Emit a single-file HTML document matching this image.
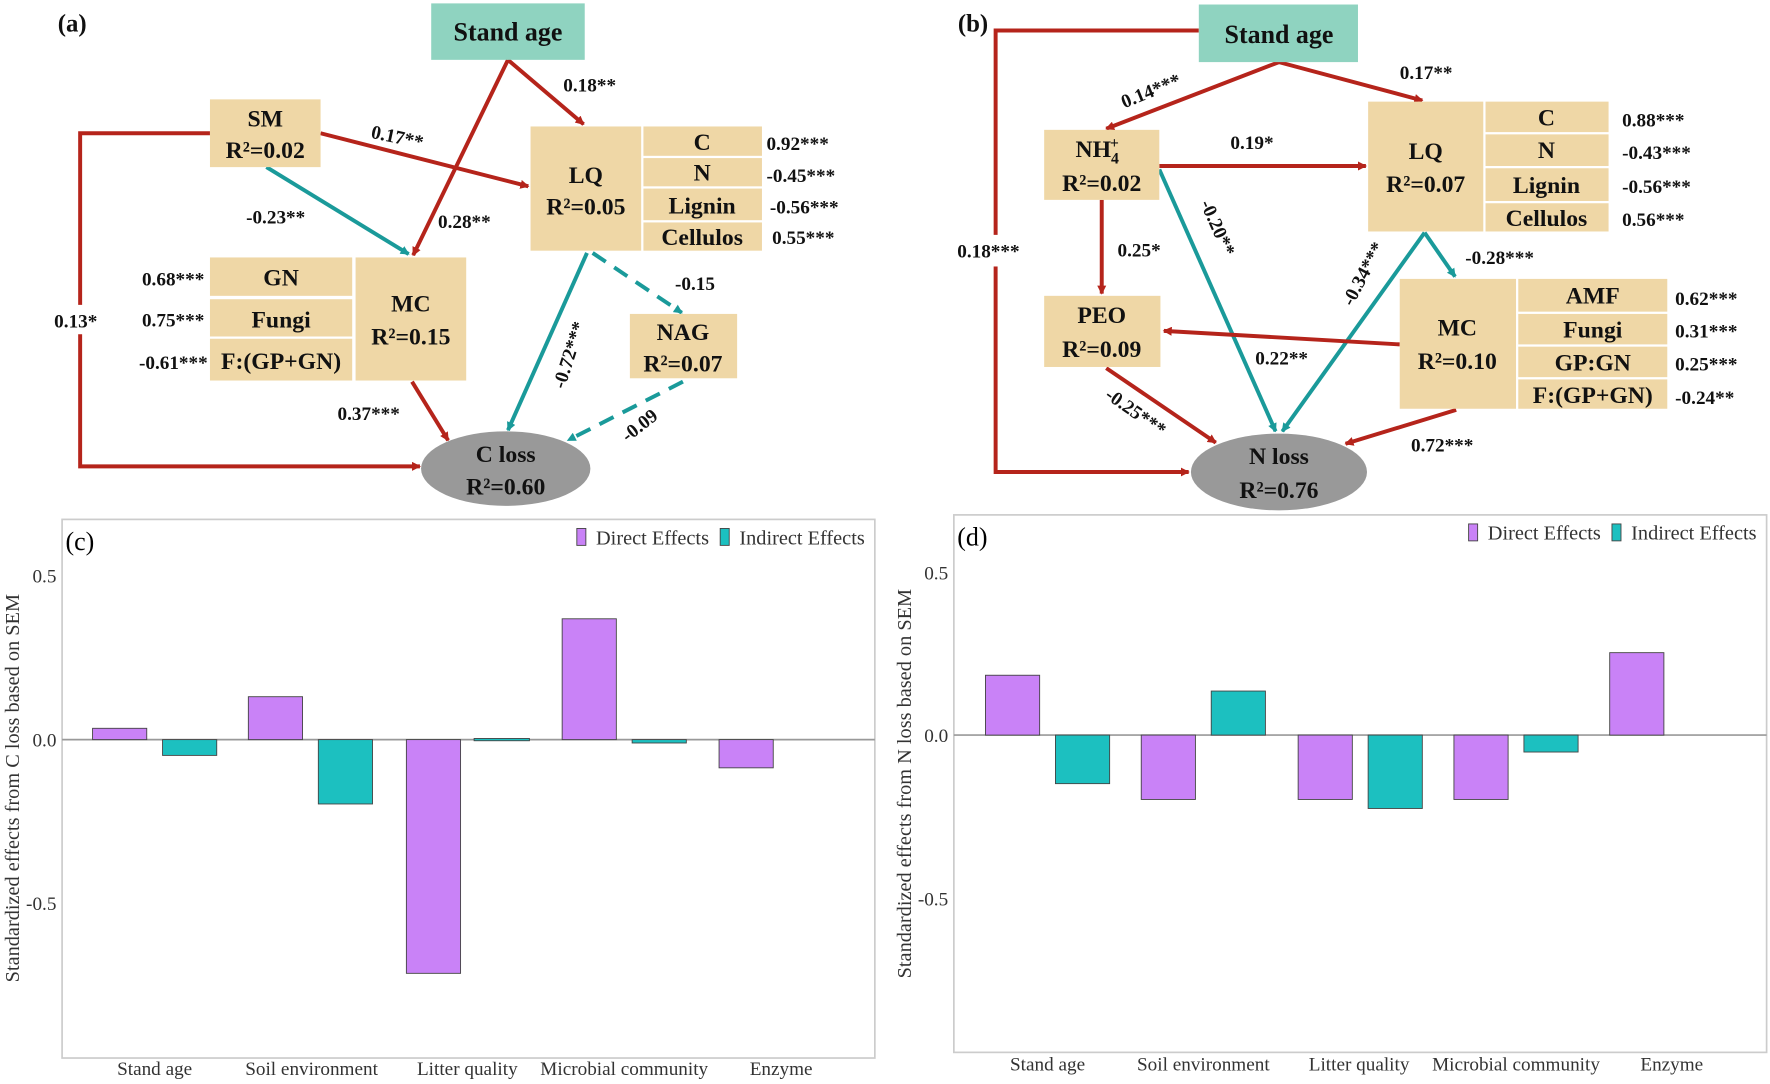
<!DOCTYPE html>
<html><head><meta charset="utf-8"><style>
html,body{margin:0;padding:0;background:#fff;}
svg{display:block;}
.b{font-family:"Liberation Serif",serif;font-weight:bold;}
.n{font-family:"Liberation Serif",serif;}
</style></head><body>
<svg width="1770" height="1084" viewBox="0 0 1568 960" preserveAspectRatio="none" xmlns="http://www.w3.org/2000/svg">
<defs>
<marker id="ar" markerWidth="8" markerHeight="8" refX="7" refY="4" orient="auto" markerUnits="userSpaceOnUse" viewBox="0 0 8 8"><path d="M0,0 L8,4 L0,8 Z" fill="#b5241b"/></marker>
<marker id="at" markerWidth="8" markerHeight="8" refX="7" refY="4" orient="auto" markerUnits="userSpaceOnUse" viewBox="0 0 8 8"><path d="M0,0 L8,4 L0,8 Z" fill="#1a9a9a"/></marker>
</defs>
<rect width="1568" height="960" fill="#fff"/>
<!-- ===== Panel a ===== -->
<g fill="none" stroke-width="3.5">
<line x1="450" y1="53" x2="517" y2="110" stroke="#b5241b" marker-end="url(#ar)"/>
<line x1="450" y1="53" x2="366" y2="226" stroke="#b5241b" marker-end="url(#ar)"/>
<line x1="284" y1="118" x2="468" y2="165" stroke="#b5241b" marker-end="url(#ar)"/>
<line x1="236" y1="148" x2="362" y2="225" stroke="#1a9a9a" marker-end="url(#at)"/>
<polyline points="186,118 71,118 71,413 372,413" stroke="#b5241b" marker-end="url(#ar)"/>
<line x1="365" y1="338" x2="397" y2="390" stroke="#b5241b" marker-end="url(#ar)"/>
<line x1="520" y1="224" x2="450" y2="381" stroke="#1a9a9a" marker-end="url(#at)"/>
<line x1="525" y1="224" x2="604" y2="277" stroke="#1a9a9a" stroke-dasharray="14,9" marker-end="url(#at)"/>
<line x1="605" y1="338" x2="503" y2="390" stroke="#1a9a9a" stroke-dasharray="14,9" marker-end="url(#at)"/>
</g>
<rect x="46" y="270" width="50" height="26" fill="#fff"/>
<g class="b" font-size="21" text-anchor="middle" fill="#111">
<text x="64" y="28" font-size="22">(a)</text>
<rect x="382" y="3" width="136" height="50" fill="#8fd3c0"/>
<text x="450" y="36" font-size="23">Stand age</text>
<rect x="186" y="88" width="98" height="60" fill="#efd7a6"/>
<text x="235" y="112">SM</text><text x="235" y="140">R²=0.02</text>
<rect x="470" y="112" width="98" height="110" fill="#efd7a6"/>
<text x="519" y="162">LQ</text><text x="519" y="190">R²=0.05</text>
<rect x="570" y="112" width="105" height="26" fill="#efd7a6"/><text x="622" y="133">C</text>
<rect x="570" y="140" width="105" height="25" fill="#efd7a6"/><text x="622" y="160">N</text>
<rect x="570" y="167" width="105" height="28" fill="#efd7a6"/><text x="622" y="189">Lignin</text>
<rect x="570" y="197" width="105" height="25" fill="#efd7a6"/><text x="622" y="217">Cellulos</text>
<g font-size="17" text-anchor="start"><text x="679" y="133">0.92***</text><text x="679" y="161">-0.45***</text><text x="682" y="189">-0.56***</text><text x="684" y="216">0.55***</text></g>
<rect x="186" y="228" width="126" height="34" fill="#efd7a6"/><text x="249" y="253">GN</text>
<rect x="186" y="265" width="126" height="33" fill="#efd7a6"/><text x="249" y="290">Fungi</text>
<rect x="186" y="300" width="126" height="37" fill="#efd7a6"/><text x="249" y="327">F:(GP+GN)</text>
<rect x="315" y="228" width="98" height="109" fill="#efd7a6"/>
<text x="364" y="276">MC</text><text x="364" y="305">R²=0.15</text>
<g font-size="17" text-anchor="end"><text x="181" y="253">0.68***</text><text x="181" y="289">0.75***</text><text x="184" y="327">-0.61***</text></g>
<rect x="558" y="278" width="95" height="57" fill="#efd7a6"/>
<text x="605" y="301">NAG</text><text x="605" y="329">R²=0.07</text>
<ellipse cx="448" cy="415" rx="75" ry="33" fill="#999"/>
<text x="448" y="409">C loss</text><text x="448" y="438">R²=0.60</text>
</g>
<g class="b" font-size="17" fill="#111">
<text x="499" y="81">0.18**</text>
<text x="388" y="202">0.28**</text>
<text x="328" y="122" transform="rotate(12 328 122)">0.17**</text>
<text x="218" y="198">-0.23**</text>
<text x="48" y="290">0.13*</text>
<text x="299" y="372">0.37***</text>
<text x="598" y="257">-0.15</text>
<text x="500" y="345" transform="rotate(-72 500 345)">-0.72***</text>
<text x="556" y="392" transform="rotate(-38 556 392)">-0.09</text>
</g>
<!-- ===== Panel b ===== -->
<g fill="none" stroke-width="3.5">
<line x1="1133" y1="55" x2="980" y2="114" stroke="#b5241b" marker-end="url(#ar)"/>
<line x1="1133" y1="55" x2="1260" y2="89" stroke="#b5241b" marker-end="url(#ar)"/>
<polyline points="1062,27 882,27 882,418 1053,418" stroke="#b5241b" marker-end="url(#ar)"/>
<line x1="1027" y1="147" x2="1210" y2="147" stroke="#b5241b" marker-end="url(#ar)"/>
<line x1="976" y1="177" x2="976" y2="260" stroke="#b5241b" marker-end="url(#ar)"/>
<line x1="1027" y1="150" x2="1130" y2="382" stroke="#1a9a9a" marker-end="url(#at)"/>
<line x1="1262" y1="206" x2="1136" y2="382" stroke="#1a9a9a" marker-end="url(#at)"/>
<line x1="1262" y1="206" x2="1289" y2="245" stroke="#1a9a9a" marker-end="url(#at)"/>
<line x1="1240" y1="305" x2="1031" y2="293" stroke="#b5241b" marker-end="url(#ar)"/>
<line x1="980" y1="326" x2="1077" y2="392" stroke="#b5241b" marker-end="url(#ar)"/>
<line x1="1290" y1="363" x2="1192" y2="393" stroke="#b5241b" marker-end="url(#ar)"/>
</g>
<rect x="845" y="208" width="72" height="28" fill="#fff"/>
<g class="b" font-size="21" text-anchor="middle" fill="#111">
<text x="862" y="28" font-size="22">(b)</text>
<rect x="1062" y="4" width="141" height="51" fill="#8fd3c0"/>
<text x="1133" y="38" font-size="23">Stand age</text>
<rect x="925" y="115" width="102" height="62" fill="#efd7a6"/>
<text x="972" y="139">NH<tspan font-size="14" dy="6">4</tspan><tspan font-size="14" dx="-8" dy="-14">+</tspan></text>
<text x="976" y="169">R²=0.02</text>
<rect x="1212" y="90" width="102" height="115" fill="#efd7a6"/>
<text x="1263" y="141">LQ</text><text x="1263" y="170">R²=0.07</text>
<rect x="1316" y="90" width="109" height="27" fill="#efd7a6"/><text x="1370" y="111">C</text>
<rect x="1316" y="119" width="109" height="28" fill="#efd7a6"/><text x="1370" y="140">N</text>
<rect x="1316" y="149" width="109" height="29" fill="#efd7a6"/><text x="1370" y="171">Lignin</text>
<rect x="1316" y="180" width="109" height="25" fill="#efd7a6"/><text x="1370" y="200">Cellulos</text>
<g font-size="17" text-anchor="start"><text x="1437" y="112">0.88***</text><text x="1437" y="141">-0.43***</text><text x="1437" y="171">-0.56***</text><text x="1437" y="200">0.56***</text></g>
<rect x="925" y="262" width="103" height="63" fill="#efd7a6"/>
<text x="976" y="286">PEO</text><text x="976" y="316">R²=0.09</text>
<rect x="1240" y="247" width="103" height="115" fill="#efd7a6"/>
<text x="1291" y="297">MC</text><text x="1291" y="327">R²=0.10</text>
<rect x="1345" y="247" width="132" height="29" fill="#efd7a6"/><text x="1411" y="269">AMF</text>
<rect x="1345" y="278" width="132" height="27" fill="#efd7a6"/><text x="1411" y="299">Fungi</text>
<rect x="1345" y="307" width="132" height="27" fill="#efd7a6"/><text x="1411" y="328">GP:GN</text>
<rect x="1345" y="336" width="132" height="26" fill="#efd7a6"/><text x="1411" y="357">F:(GP+GN)</text>
<g font-size="17" text-anchor="start"><text x="1484" y="270">0.62***</text><text x="1484" y="299">0.31***</text><text x="1484" y="328">0.25***</text><text x="1484" y="358">-0.24**</text></g>
<ellipse cx="1133" cy="418" rx="78" ry="34" fill="#999"/>
<text x="1133" y="411">N loss</text><text x="1133" y="441">R²=0.76</text>
</g>
<g class="b" font-size="17" fill="#111">
<text x="996" y="96" transform="rotate(-22 996 96)">0.14***</text>
<text x="1240" y="70">0.17**</text>
<text x="848" y="228">0.18***</text>
<text x="1090" y="132">0.19*</text>
<text x="990" y="227">0.25*</text>
<text x="1063" y="180" transform="rotate(66 1063 180)">-0.20**</text>
<text x="1198" y="272" transform="rotate(-62 1198 272)">-0.34***</text>
<text x="1298" y="234">-0.28***</text>
<text x="1112" y="323">0.22**</text>
<text x="978" y="352" transform="rotate(35 978 352)">-0.25***</text>
<text x="1250" y="400">0.72***</text>
</g>
<!-- ===== Panel c ===== -->
<rect x="55" y="460" width="720" height="477" fill="none" stroke="#ccc" stroke-width="1.5"/>
<text class="n" x="58" y="487" font-size="23">(c)</text>
<line x1="55" y1="655" x2="775" y2="655" stroke="#999" stroke-width="1.5"/>
<g class="n" font-size="17" fill="#333" text-anchor="end">
<text x="50" y="516">0.5</text><text x="50" y="661">0.0</text><text x="50" y="806">-0.5</text>
</g>
<text class="n" font-size="18" fill="#333" text-anchor="middle" transform="translate(17 698) rotate(-90)">Standardized effects from C loss based on SEM</text>
<g stroke="#444" stroke-width="0.8">
<rect x="82" y="645" width="48" height="10" fill="#c982f7"/>
<rect x="144" y="655" width="48" height="14" fill="#1cc0c0"/>
<rect x="220" y="617" width="48" height="38" fill="#c982f7"/>
<rect x="282" y="655" width="48" height="57" fill="#1cc0c0"/>
<rect x="360" y="655" width="48" height="207" fill="#c982f7"/>
<rect x="420" y="654" width="49" height="2" fill="#1cc0c0"/>
<rect x="498" y="548" width="48" height="107" fill="#c982f7"/>
<rect x="560" y="655" width="48" height="3" fill="#1cc0c0"/>
<rect x="637" y="655" width="48" height="25" fill="#c982f7"/>
<rect x="511" y="468" width="8" height="15" fill="#c982f7"/>
<rect x="638" y="468" width="8" height="15" fill="#1cc0c0"/>
</g>
<g class="n" font-size="18" fill="#333"><text x="528" y="482">Direct Effects</text><text x="655" y="482">Indirect Effects</text></g>
<g class="n" font-size="17" fill="#333" text-anchor="middle">
<text x="137" y="952">Stand age</text><text x="276" y="952">Soil environment</text><text x="414" y="952">Litter quality</text><text x="553" y="952">Microbial community</text><text x="692" y="952">Enzyme</text>
</g>
<!-- ===== Panel d ===== -->
<rect x="845" y="456" width="720" height="476" fill="none" stroke="#ccc" stroke-width="1.5"/>
<text class="n" x="848" y="483" font-size="23">(d)</text>
<line x1="845" y1="651" x2="1565" y2="651" stroke="#999" stroke-width="1.5"/>
<g class="n" font-size="17" fill="#333" text-anchor="end">
<text x="840" y="513">0.5</text><text x="840" y="657">0.0</text><text x="840" y="802">-0.5</text>
</g>
<text class="n" font-size="18" fill="#333" text-anchor="middle" transform="translate(807 694) rotate(-90)">Standardized effects from N loss based on SEM</text>
<g stroke="#444" stroke-width="0.8">
<rect x="873" y="598" width="48" height="53" fill="#c982f7"/>
<rect x="935" y="651" width="48" height="43" fill="#1cc0c0"/>
<rect x="1011" y="651" width="48" height="57" fill="#c982f7"/>
<rect x="1073" y="612" width="48" height="39" fill="#1cc0c0"/>
<rect x="1150" y="651" width="48" height="57" fill="#c982f7"/>
<rect x="1212" y="651" width="48" height="65" fill="#1cc0c0"/>
<rect x="1288" y="651" width="48" height="57" fill="#c982f7"/>
<rect x="1350" y="651" width="48" height="15" fill="#1cc0c0"/>
<rect x="1426" y="578" width="48" height="73" fill="#c982f7"/>
<rect x="1301" y="464" width="8" height="15" fill="#c982f7"/>
<rect x="1428" y="464" width="8" height="15" fill="#1cc0c0"/>
</g>
<g class="n" font-size="18" fill="#333"><text x="1318" y="478">Direct Effects</text><text x="1445" y="478">Indirect Effects</text></g>
<g class="n" font-size="17" fill="#333" text-anchor="middle">
<text x="928" y="948">Stand age</text><text x="1066" y="948">Soil environment</text><text x="1204" y="948">Litter quality</text><text x="1343" y="948">Microbial community</text><text x="1481" y="948">Enzyme</text>
</g>
</svg>
</body></html>
